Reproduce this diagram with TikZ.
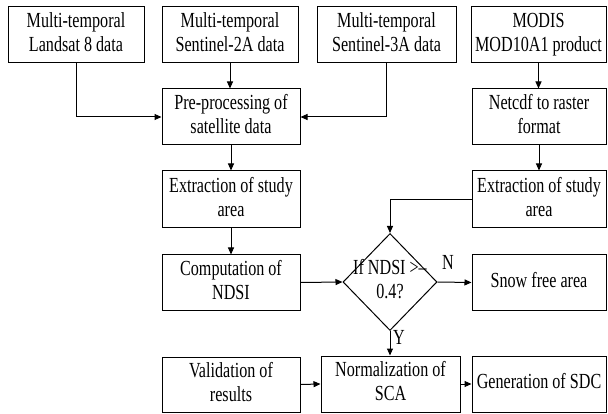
\documentclass[tikz,border=0pt]{standalone}
\usepackage{fontspec}
\setmainfont{Liberation Serif}
\usetikzlibrary{arrows.meta,shapes.geometric}
\newcommand{\narrowtxt}[1]{\scalebox{0.75}[1]{\begin{tabular}{@{}c@{}}#1\end{tabular}}}
\begin{document}
\begin{tikzpicture}[x=1pt,y=-1pt,
  box/.style={draw, line width=1pt, inner sep=0pt, align=center,
    minimum height=56pt, font=\fontsize{21.5}{24}\selectfont},
  conn/.style={line width=1pt, -{Triangle[length=7pt,width=6pt]}},
  lbl/.style={font=\fontsize{21.5}{24}\selectfont, inner sep=0pt}]
\useasboundingbox (0,0) rectangle (608,414);
% top row
\node[box, minimum width=136pt] (landsat) at (76,35) {\narrowtxt{Multi-temporal\\Landsat 8 data}};
\node[box, minimum width=136pt] (s2) at (230,35) {\narrowtxt{Multi-temporal\\Sentinel-2A data}};
\node[box, minimum width=139pt] (s3) at (386.5,35) {\narrowtxt{Multi-temporal\\Sentinel-3A data}};
\node[box, minimum width=135pt] (modis) at (538.5,35) {\narrowtxt{MODIS\\MOD10A1 product}};
% left column
\node[box, minimum width=138pt] (pre) at (231,117) {\narrowtxt{Pre-processing of\\satellite data}};
\node[box, minimum width=138pt, minimum height=57pt] (extL) at (231,199.5) {\narrowtxt{Extraction of study\\area}};
\node[box, minimum width=138pt, minimum height=55pt] (comp) at (231,282.5) {\narrowtxt{Computation of\\NDSI}};
\node[box, minimum width=138pt, minimum height=55pt] (val) at (231,384.5) {\narrowtxt{Validation of\\results}};
% right column
\node[box, minimum width=134pt] (net) at (539,117) {\narrowtxt{Netcdf to raster\\format}};
\node[box, minimum width=134pt, minimum height=57pt] (extR) at (539,199.5) {\narrowtxt{Extraction of study\\area}};
\node[box, minimum width=134pt, minimum height=55pt] (snow) at (539,282.5) {\narrowtxt{Snow free area}};
\node[box, minimum width=134pt] (gen) at (539,384) {\narrowtxt{Generation of SDC}};
% middle
\node[box, minimum width=139pt] (norm) at (390.5,384) {\narrowtxt{Normalization of\\SCA}};
\node[draw, line width=1pt, diamond, minimum width=94pt, minimum height=97pt, inner sep=0pt] (dia) at (390,282) {};
\node[lbl] (diatext) at (dia.center) {\narrowtxt{If NDSI >–\\0.4?}};
% connectors
\draw[conn] (landsat.south) |- (pre.west);
\draw[conn] (s2.south) -- (s2.south |- pre.north);
\draw[conn] (s3.south) |- (pre.east);
\draw[conn] (modis.south) -- (modis.south |- net.north);
\draw[conn] (net.south) -- (extR.north);
\draw[conn] (pre.south) -- (extL.north);
\draw[conn] (extL.south) -- (comp.north);
\draw[conn] (extR.west) -| (dia.north);
\draw[conn] (comp.east) -- (dia.west);
\draw[conn] (dia.east) -- (snow.west);
\draw[conn] (dia.south) -- (dia.south |- norm.north);
\draw[conn] (val.east) -- (norm.west);
\draw[conn] (norm.east) -- (gen.west);
% branch labels
\node[lbl] (nlab) at (448,265) {\narrowtxt{N}};
\node[lbl] (ylab) at (399,340) {\narrowtxt{Y}};
\end{tikzpicture}
\end{document}
